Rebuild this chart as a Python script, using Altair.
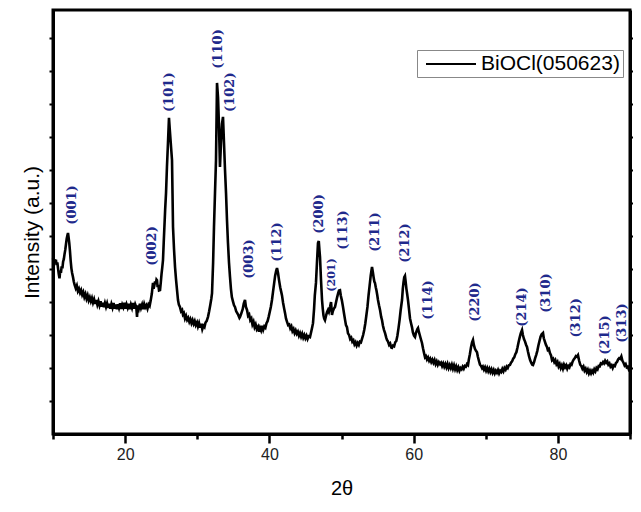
import altair as alt
import pandas as pd

# ---- XRD pattern: (2theta, intensity a.u.) ----
pattern = [
    (10.0, 5.33), (10.1, 5.22), (10.2, 5.30), (10.3, 5.18), (10.4, 5.28), (10.5, 5.12), (10.6, 5.20),
    (10.7, 5.02), (10.8, 4.85), (10.9, 4.72), (11.0, 4.95), (11.1, 4.88), (11.2, 5.08), (11.3, 5.02),
    (11.4, 5.22), (11.5, 5.30), (11.6, 5.45), (11.7, 5.58), (11.8, 5.75), (11.9, 5.92), (12.0, 6.02),
    (12.08, 6.09), (12.15, 5.98), (12.25, 5.80), (12.35, 5.55), (12.45, 5.25), (12.55, 5.02),
    (12.65, 4.88), (12.77, 4.76), (12.88, 4.62),
    (13.0, 4.52), (13.15, 4.42), (13.3, 4.50), (13.45, 4.33), (13.6, 4.40), (13.75, 4.28), (13.9, 4.36),
    (14.05, 4.22), (14.2, 4.30), (14.35, 4.15), (14.5, 4.24), (14.65, 4.10), (14.8, 4.20), (14.95, 4.05),
    (15.1, 4.14), (15.25, 4.02), (15.4, 4.12), (15.55, 3.98), (15.7, 4.08), (15.85, 3.94), (16.0, 4.06),
    (16.15, 3.92), (16.3, 4.03), (16.45, 3.90), (16.6, 4.02), (16.75, 3.86), (16.9, 3.98), (17.05, 3.84),
    (17.2, 3.97), (17.35, 3.85), (17.5, 3.96), (17.65, 3.82), (17.8, 3.95), (17.95, 3.80), (18.1, 3.94),
    (18.25, 3.83), (18.4, 3.97), (18.55, 3.80), (18.7, 3.92), (18.85, 3.78), (19.0, 3.93), (19.15, 3.82),
    (19.3, 3.96), (19.45, 3.79), (19.6, 3.92), (19.75, 3.84), (19.9, 3.98), (20.05, 3.80), (20.2, 3.93),
    (20.35, 3.83), (20.5, 3.95), (20.65, 3.78), (20.8, 3.92), (20.95, 3.82), (21.1, 3.97), (21.25, 3.80),
    (21.4, 3.93), (21.55, 3.84), (21.65, 3.55), (21.75, 3.90), (21.9, 3.80), (22.05, 3.95), (22.2, 3.82),
    (22.35, 3.92), (22.5, 3.78), (22.65, 3.94), (22.8, 3.84), (22.95, 3.90), (23.1, 3.80), (23.25, 3.93),
    (23.4, 3.88), (23.55, 4.05), (23.7, 4.25),
    (23.86, 4.58), (23.95, 4.40), (24.05, 4.50), (24.15, 4.62), (24.25, 4.55), (24.35, 4.68),
    (24.42, 4.66), (24.5, 4.45), (24.6, 4.52), (24.7, 4.35), (24.84, 4.36), (24.95, 4.60), (25.05, 4.85),
    (25.15, 5.05), (25.25, 5.27), (25.35, 5.80), (25.45, 6.30), (25.55, 6.80), (25.67, 7.30), (25.8, 8.10),
    (25.94, 8.82), (26.08, 9.58), (26.2, 9.20), (26.3, 8.90), (26.4, 8.60), (26.5, 8.30), (26.57, 7.30),
    (26.64, 6.27), (26.78, 5.60), (26.92, 5.06), (27.05, 4.70), (27.2, 4.35), (27.33, 4.06), (27.45, 3.92),
    (27.6, 3.85), (27.75, 3.72), (27.9, 3.76), (28.02, 3.62), (28.15, 3.66), (28.3, 3.50), (28.45, 3.58),
    (28.6, 3.46), (28.75, 3.52), (28.9, 3.40), (29.05, 3.48), (29.2, 3.36), (29.35, 3.45), (29.5, 3.34),
    (29.65, 3.42), (29.8, 3.30), (29.97, 3.38), (30.1, 3.26), (30.25, 3.36), (30.4, 3.22), (30.55, 3.34),
    (30.7, 3.18), (30.85, 3.28), (31.0, 3.24), (31.15, 3.38), (31.3, 3.42), (31.49, 3.55), (31.65, 3.72),
    (31.8, 3.90), (31.95, 4.10), (32.05, 4.27), (32.2, 5.2), (32.32, 6.27), (32.46, 7.3), (32.6, 8.3),
    (32.74, 10.64), (32.88, 10.2), (33.02, 9.3), (33.15, 8.09), (33.29, 8.82), (33.43, 9.4), (33.57, 9.61),
    (33.71, 8.82), (33.85, 8.0), (33.99, 7.3), (34.12, 6.5), (34.26, 5.79), (34.4, 5.2), (34.54, 4.76),
    (34.67, 4.40), (34.8, 4.15), (34.95, 4.02), (35.1, 3.90), (35.23, 3.85), (35.4, 3.72), (35.55, 3.66),
    (35.7, 3.60), (35.85, 3.52), (35.93, 3.55), (36.1, 3.65), (36.3, 3.78), (36.45, 3.95), (36.62, 4.06),
    (36.75, 3.85), (36.9, 3.76), (37.05, 3.58), (37.2, 3.62), (37.35, 3.45), (37.5, 3.50), (37.65, 3.32),
    (37.8, 3.40), (37.95, 3.24), (38.1, 3.32), (38.25, 3.18), (38.42, 3.25), (38.55, 3.10), (38.7, 3.22),
    (38.85, 3.14), (39.0, 3.28), (39.15, 3.16), (39.3, 3.26), (39.45, 3.22), (39.6, 3.36), (39.75, 3.42),
    (39.9, 3.55), (40.05, 3.70), (40.2, 3.85), (40.36, 4.06), (40.5, 4.30), (40.65, 4.55), (40.8, 4.80),
    (40.95, 4.95), (41.06, 5.03), (41.2, 4.88), (41.35, 4.65), (41.5, 4.45), (41.65, 4.30), (41.75, 4.20),
    (41.9, 3.98), (42.05, 3.80), (42.17, 3.67), (42.3, 3.50), (42.45, 3.40), (42.6, 3.30), (42.75, 3.32),
    (42.9, 3.20), (43.05, 3.26), (43.2, 3.12), (43.35, 3.18), (43.5, 3.06), (43.65, 3.14), (43.8, 3.04),
    (43.95, 3.10), (44.1, 2.98), (44.25, 3.06), (44.4, 2.95), (44.55, 3.04), (44.7, 2.92), (44.85, 3.00),
    (45.0, 2.90), (45.15, 2.98), (45.3, 2.88), (45.45, 2.96), (45.63, 2.94), (45.8, 3.10), (45.95, 3.25),
    (46.05, 3.36), (46.2, 3.80), (46.3, 4.20), (46.46, 4.58), (46.6, 5.20), (46.74, 5.79), (46.85, 5.85),
    (46.95, 5.55), (47.02, 5.36), (47.15, 4.70), (47.3, 4.06), (47.4, 3.80), (47.5, 3.60), (47.6, 3.50),
    (47.71, 3.45), (47.85, 3.58), (48.0, 3.70), (48.13, 3.76), (48.25, 3.70), (48.41, 3.85), (48.55, 4.00),
    (48.68, 3.61), (48.8, 3.72), (48.95, 3.80), (49.1, 3.85), (49.25, 4.00), (49.4, 4.15), (49.55, 4.28),
    (49.65, 4.35), (49.79, 4.36), (49.9, 4.20), (50.05, 4.05), (50.21, 3.85), (50.35, 3.65), (50.5, 3.45),
    (50.62, 3.30), (50.76, 3.24), (50.9, 3.05), (51.05, 3.00), (51.2, 2.88), (51.35, 2.92), (51.5, 2.80),
    (51.65, 2.84), (51.8, 2.72), (51.95, 2.78), (52.1, 2.68), (52.25, 2.76), (52.4, 2.70), (52.55, 2.80),
    (52.7, 2.78), (52.84, 2.88), (53.0, 3.00), (53.15, 3.15), (53.3, 3.35), (53.45, 3.60), (53.6, 3.85),
    (53.75, 4.20), (53.9, 4.50), (54.05, 4.80), (54.15, 4.95), (54.23, 5.06), (54.35, 4.90), (54.45, 4.75),
    (54.55, 4.62), (54.64, 4.58), (54.75, 4.45), (54.85, 4.35), (54.95, 4.22), (55.06, 4.06), (55.2, 3.90),
    (55.35, 3.75), (55.5, 3.55), (55.62, 3.45), (55.75, 3.28), (55.9, 3.15), (56.05, 3.05), (56.2, 2.92),
    (56.31, 2.85), (56.45, 2.80), (56.6, 2.70), (56.75, 2.74), (56.9, 2.62), (57.0, 2.61), (57.15, 2.68),
    (57.3, 2.66), (57.45, 2.78), (57.6, 2.82), (57.75, 2.98), (57.9, 3.20), (58.05, 3.45), (58.2, 3.75),
    (58.39, 4.06), (58.5, 4.40), (58.6, 4.60), (58.7, 4.75), (58.8, 4.79), (58.9, 4.60), (59.0, 4.40),
    (59.1, 4.25), (59.22, 4.06), (59.35, 3.80), (59.5, 3.50), (59.65, 3.35), (59.77, 3.24), (59.9, 3.08),
    (60.05, 2.98), (60.19, 2.94), (60.3, 3.05), (60.42, 3.12), (60.52, 3.18), (60.61, 3.21), (60.72, 3.10),
    (60.85, 3.00), (61.0, 2.88), (61.16, 2.76), (61.3, 2.60), (61.45, 2.45), (61.58, 2.33), (61.7, 2.36),
    (61.85, 2.26), (62.0, 2.32), (62.15, 2.22), (62.3, 2.28), (62.45, 2.18), (62.6, 2.25), (62.75, 2.16),
    (62.9, 2.24), (63.05, 2.12), (63.2, 2.20), (63.35, 2.10), (63.5, 2.18), (63.66, 2.12), (63.8, 2.16),
    (63.95, 2.06), (64.1, 2.14), (64.25, 2.04), (64.4, 2.12), (64.55, 2.02), (64.7, 2.12), (64.85, 2.00),
    (65.0, 2.09), (65.15, 2.00), (65.3, 2.10), (65.45, 1.98), (65.6, 2.08), (65.75, 1.96), (65.9, 2.05),
    (66.05, 1.94), (66.2, 2.02), (66.35, 1.92), (66.5, 2.00), (66.65, 1.96), (66.8, 2.04), (66.95, 1.98),
    (67.1, 2.06), (67.25, 2.04), (67.4, 2.12), (67.54, 2.09), (67.65, 2.25), (67.8, 2.42), (67.95, 2.62),
    (68.1, 2.78), (68.23, 2.85), (68.35, 2.70), (68.5, 2.58), (68.65, 2.52), (68.79, 2.48), (68.9, 2.35),
    (69.05, 2.22), (69.2, 2.10), (69.35, 2.06), (69.48, 2.00), (69.6, 2.04), (69.75, 1.95), (69.9, 2.02),
    (70.05, 1.92), (70.2, 2.00), (70.35, 1.90), (70.5, 1.98), (70.65, 1.88), (70.8, 1.96), (70.95, 1.86),
    (71.1, 1.94), (71.25, 1.84), (71.4, 1.92), (71.55, 1.86), (71.7, 1.94), (71.85, 1.84), (72.0, 1.92),
    (72.15, 1.88), (72.3, 1.97), (72.45, 1.90), (72.6, 2.00), (72.75, 1.95), (72.9, 2.04), (73.05, 2.00),
    (73.2, 2.08), (73.36, 2.09), (73.5, 2.16), (73.65, 2.20), (73.8, 2.28), (73.95, 2.32), (74.1, 2.42),
    (74.25, 2.48), (74.4, 2.62), (74.55, 2.78), (74.7, 2.92), (74.85, 3.05), (75.03, 3.15), (75.15, 3.00),
    (75.3, 2.88), (75.45, 2.80), (75.6, 2.70), (75.72, 2.64), (75.85, 2.50), (76.0, 2.36), (76.15, 2.24),
    (76.3, 2.16), (76.45, 2.10), (76.55, 2.09), (76.7, 2.18), (76.85, 2.30), (77.0, 2.40), (77.15, 2.52),
    (77.3, 2.68), (77.45, 2.82), (77.6, 2.95), (77.75, 3.02), (77.94, 3.06), (78.05, 2.90), (78.2, 2.80),
    (78.35, 2.70), (78.49, 2.64), (78.6, 2.55), (78.75, 2.58), (78.9, 2.45), (79.05, 2.38), (79.19, 2.24),
    (79.35, 2.28), (79.5, 2.18), (79.65, 2.24), (79.8, 2.12), (79.95, 2.18), (80.1, 2.05), (80.25, 2.12),
    (80.4, 2.00), (80.55, 2.08), (80.7, 1.98), (80.85, 2.10), (81.0, 2.02), (81.15, 2.08), (81.3, 1.98),
    (81.45, 2.06), (81.6, 2.02), (81.75, 2.12), (81.9, 2.10), (82.05, 2.20), (82.2, 2.26), (82.35, 2.30),
    (82.5, 2.36), (82.65, 2.34), (82.79, 2.39), (82.95, 2.22), (83.1, 2.10), (83.25, 2.06), (83.4, 1.98),
    (83.55, 2.04), (83.7, 1.92), (83.85, 1.98), (84.0, 1.88), (84.15, 1.95), (84.3, 1.84), (84.45, 1.92),
    (84.6, 1.84), (84.75, 1.92), (84.9, 1.86), (85.05, 1.96), (85.2, 1.90), (85.35, 2.00), (85.5, 1.96),
    (85.65, 2.06), (85.8, 2.05), (85.95, 2.14), (86.1, 2.12), (86.26, 2.18), (86.4, 2.14), (86.55, 2.22),
    (86.7, 2.16), (86.85, 2.20), (87.0, 2.10), (87.15, 2.14), (87.3, 2.04), (87.45, 2.08), (87.6, 2.00),
    (87.75, 2.08), (87.9, 2.06), (88.05, 2.15), (88.2, 2.18), (88.35, 2.26), (88.5, 2.30), (88.65, 2.28),
    (88.8, 2.35), (88.95, 2.22), (89.1, 2.16), (89.25, 2.08), (89.4, 2.12), (89.55, 2.02), (89.7, 2.04),
    (89.85, 1.95), (90.0, 1.98),
]
two_theta = [p[0] for p in pattern]
intensity = [p[1] for p in pattern]

# ---- peak labels (hkl) with their label positions ----
hkl_labels = ["(001)", "(002)", "(101)", "(110)", "(102)", "(003)", "(112)", "(200)", "(201)",
              "(113)", "(211)", "(212)", "(114)", "(220)", "(214)", "(310)", "(312)", "(215)", "(313)"]
hkl_x = [12.63, 23.73, 26.08, 32.88, 34.54, 37.18, 41.06, 46.88, 48.68,
         50.21, 54.64, 58.80, 61.99, 68.51, 75.03, 78.35, 82.51, 86.53, 88.89]
hkl_y = [6.94, 5.70, 10.36, 11.67, 10.36, 5.30, 5.82, 6.67, 4.82,
         6.18, 6.12, 5.79, 4.06, 4.00, 3.85, 4.27, 3.52, 3.00, 3.36]
hkl_size = [13, 13, 13, 13, 13, 13, 13, 13, 11,
            13, 13, 13, 13, 13, 13, 13, 13, 13, 13]

series_name = "BiOCl(050623)"
x_ticks = [10, 20, 30, 40, 50, 60, 70, 80, 90]
y_ticks = [1, 2, 3, 4, 5, 6, 7, 8, 9, 10, 11, 12]

df = pd.DataFrame({"tt": two_theta, "I": intensity, "series": series_name})
lab = pd.DataFrame({"label": hkl_labels, "tt": hkl_x, "I": hkl_y, "size": hkl_size})

xscale = alt.Scale(domain=[10, 90], nice=False, zero=False)
yscale = alt.Scale(domain=[0, 12.85], nice=False, zero=False)

x_axis = alt.Axis(
    values=x_ticks,
    title="2θ",
    titleFont="Liberation Sans", titleFontSize=20, titleFontWeight="normal", titleColor="black",
    titlePadding=16,
    labelFont="Liberation Sans", labelFontSize=16, labelColor="#222222", labelPadding=3,
    labelExpr="datum.value % 20 === 0 ? datum.label : ''",
    tickSize={"condition": {"test": "datum.value % 20 === 0", "value": 9}, "value": 5},
    tickWidth=2.5, tickColor="black",
    domainColor="black", domainWidth=3, grid=False,
)
y_axis_left = alt.Axis(
    values=y_ticks, labels=False, title="Intensity (a.u.)",
    titleFont="Liberation Sans", titleFontSize=21, titleFontWeight="normal", titleColor="black",
    titlePadding=6, titleY=222, tickSize=4, tickWidth=2, tickColor="black",
    domainColor="black", domainWidth=3, grid=False,
)
y_axis_right = alt.Axis(
    values=y_ticks, labels=False, title="", orient="right",
    tickSize=5, tickWidth=2, tickColor="black",
    domainColor="black", domainWidth=3, grid=False,
)

line = alt.Chart(df).mark_line(strokeWidth=2.6, strokeJoin="miter").encode(
    x=alt.X("tt:Q", scale=xscale, axis=x_axis),
    y=alt.Y("I:Q", scale=yscale, axis=y_axis_left),
    color=alt.Color(
        "series:N",
        scale=alt.Scale(domain=[series_name], range=["black"]),
        legend=alt.Legend(
            title=None, orient="none", legendX=364, legendY=40,
            symbolType="M-0.5,0H4.5", symbolSize=400, symbolStrokeWidth=2,
            symbolFillColor="transparent",
            labelFont="Liberation Sans", labelFontSize=21, labelColor="black", labelOffset=39,
            strokeColor="#888888", fillColor="white", padding=3, cornerRadius=0,
        ),
    ),
)

labels = alt.Chart(lab).mark_text(
    angle=270, align="center", baseline="middle",
    font="DejaVu Serif", fontWeight="bold", color="#1f2a8c",
).encode(
    x=alt.X("tt:Q", scale=xscale),
    y=alt.Y("I:Q", scale=yscale, axis=y_axis_right),
    text="label:N",
    size=alt.Size("size:Q", scale=None, legend=None),
)

chart = (
    alt.layer(line, labels)
    .resolve_axis(y="independent")
    .properties(
        width=577, height=424,
        autosize=alt.AutoSizeParams(type="none"),
        padding={"left": 45, "top": 2, "right": 3, "bottom": 70},
        background="white",
    )
    .configure_view(stroke="black", strokeWidth=3)
)

chart.save("out.html", embed_options={"renderer": "svg", "actions": False})
